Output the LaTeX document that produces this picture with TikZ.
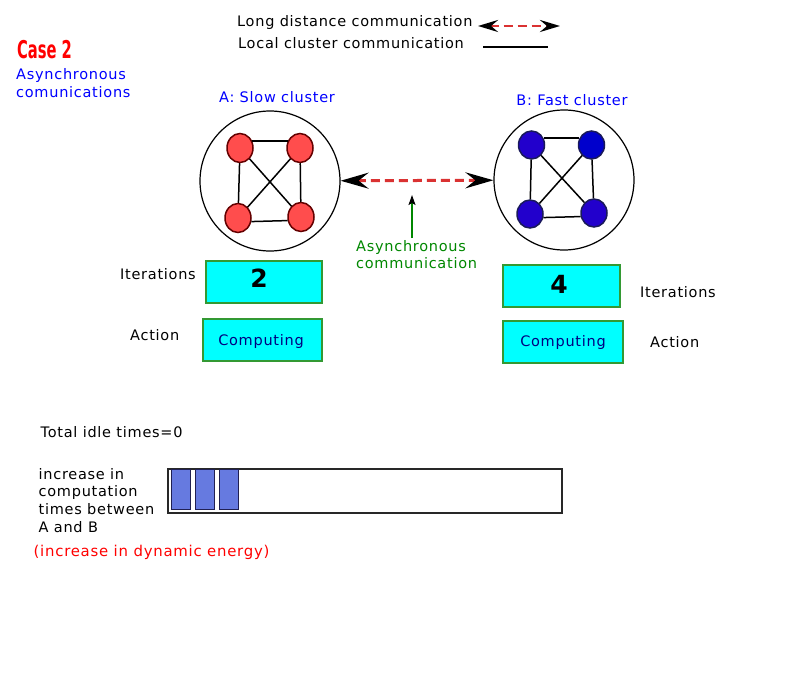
\documentclass[tikz,border=0pt]{standalone}
\usepackage{fontspec}
\setmainfont{DejaVu Sans}[LetterSpace=5]
\newfontfamily\boldcase{DejaVu Sans}[LetterSpace=0]
\usetikzlibrary{arrows.meta,shapes.geometric}
\definecolor{dashred}{RGB}{218,50,50}
\definecolor{rednode}{RGB}{255,77,77}
\definecolor{redborder}{RGB}{100,0,0}
\definecolor{bluenodeA}{RGB}{34,0,204}
\definecolor{bluenodeB}{RGB}{0,0,204}
\definecolor{blueborder}{RGB}{26,26,90}
\definecolor{boxgreen}{RGB}{51,153,51}
\definecolor{cyanfill}{RGB}{0,255,255}
\definecolor{txtgreen}{RGB}{0,135,0}
\definecolor{navy}{RGB}{0,0,128}
\definecolor{barblue}{RGB}{102,122,224}
\definecolor{barborder}{RGB}{40,40,40}
\begin{document}
\begin{tikzpicture}[x=1pt,y=-1pt,
  txt/.style={font=\fontsize{14.5}{17}\selectfont, inner sep=0pt, anchor=base west},
  ctxt/.style={txt, anchor=base},
  bigcircle/.style={circle, draw=black, line width=1.2pt, minimum size=140pt, inner sep=0pt},
  rnode/.style={ellipse, draw=redborder, fill=rednode, line width=1.5pt, minimum width=26pt, minimum height=29pt, inner sep=0pt},
  bnode/.style={ellipse, draw=blueborder, line width=1.5pt, minimum width=26pt, minimum height=28pt, inner sep=0pt},
  edge/.style={draw=black, line width=1.5pt},
  cyanbox/.style={rectangle, draw=boxgreen, fill=cyanfill, line width=2pt, minimum height=42pt, inner sep=0pt},
  longarrow/.style={draw=dashred, dash pattern=on 9pt off 5pt},
  idlebar/.style={rectangle, fill=barblue, draw=barborder!80!blue, line width=1pt, minimum width=19pt, minimum height=40pt, inner sep=0pt, anchor=north west},
  bignum/.style={font=\boldcase\bfseries\fontsize{25}{25}\selectfont, inner sep=0pt, anchor=base}
]
\useasboundingbox (0,0) rectangle (800,698);

% legend
\node[txt] (lg1) at (237,27) {Long distance communication};
\node[txt] (lg2) at (238,49) {Local cluster communication};
\coordinate (l1a) at (478,26);
\coordinate (l1b) at (560,26);
\draw[longarrow, line width=2.8pt, {Stealth[length=20pt,width=12pt,inset=7pt,color=black]}-{Stealth[length=20pt,width=12pt,inset=7pt,color=black]}] (l1a) -- (l1b);
\coordinate (l2a) at (483,47);
\coordinate (l2b) at (548,47);
\draw[black, line width=1.5pt] (l2a) -- (l2b);

% case title
\node[inner sep=0pt, anchor=base west, text=red] (case) at (17,59) {\scalebox{0.6}[1]{\boldcase\bfseries\fontsize{24.5}{25}\selectfont Case 2}};
\node[txt, text=blue] (as1) at (16,80) {Asynchronous};
\node[txt, text=blue] (as2) at (16,98) {comunications};

% cluster titles
\node[ctxt, text=blue] (tA) at (277,103) {A: Slow cluster};
\node[ctxt, text=blue] (tB) at (572,105.5) {B: Fast cluster};

% clusters
\node[bigcircle] (cA) at (270,181) {};
\node[bigcircle] (cB) at (564,180) {};

\node[rnode] (a1) at (240,148) {};
\node[rnode] (a2) at (300,148) {};
\node[rnode] (a3) at (238,218) {};
\node[rnode] (a4) at (301,217) {};
\path[edge] (a1.30) -- (a2.150);
\path[edge] (a1) -- (a3);
\path[edge] (a2) -- (a4);
\path[edge] (a3.-15) -- (a4.195);
\path[edge] (a1) -- (a4);
\path[edge] (a2) -- (a3);

\node[bnode, fill=bluenodeA] (b1) at (531.5,145) {};
\node[bnode, fill=bluenodeB] (b2) at (591.5,145) {};
\node[bnode, fill=bluenodeA] (b3) at (530,214) {};
\node[bnode, fill=bluenodeA] (b4) at (594,213) {};
\path[edge] (b1.30) -- (b2.150);
\path[edge] (b1) -- (b3);
\path[edge] (b2) -- (b4);
\path[edge] (b3.-15) -- (b4.195);
\path[edge] (b1) -- (b4);
\path[edge] (b2) -- (b3);

% long distance arrow
\draw[longarrow, line width=3pt, {Stealth[length=28pt,width=16pt,inset=10pt,color=black]}-{Stealth[length=28pt,width=16pt,inset=10pt,color=black]}] (cA) -- (cB);

% asynchronous communication pointer
\node[txt, text=txtgreen] (ac1) at (356,251.5) {Asynchronous};
\node[txt, text=txtgreen] (ac2) at (356,268) {communication};
\coordinate (g0) at (412,238);
\coordinate (gtip) at (412,195);
\draw[txtgreen, line width=1.5pt, -{Stealth[length=10pt,width=7pt,inset=2pt,color=black]}] (g0) -- (gtip);

% boxes A
\node[txt] (itlA) at (120,279) {Iterations};
\node[txt] (aclA) at (130,340.7) {Action};
\node[cyanbox, minimum width=116pt] (itA) at (264,282) {};
\node[bignum] (nA) at (259,287) {2};
\node[cyanbox, minimum width=119pt] (acA) at (262.5,340) {};
\node[ctxt, text=navy] (cpA) at (261,345.5) {Computing};

% boxes B
\node[cyanbox, minimum width=117pt] (itB) at (561.5,286) {};
\node[bignum] (nB) at (559,293) {4};
\node[cyanbox, minimum width=120pt] (acB) at (563,342) {};
\node[ctxt, text=navy] (cpB) at (563,346) {Computing};
\node[txt] (itlB) at (640,297) {Iterations};
\node[txt] (aclB) at (650,347) {Action};

% idle times
\node[txt] (idle) at (40.5,437.3) {Total idle times=0};
\node[txt] (inc1) at (38.5,479) {increase in};
\node[txt] (inc2) at (38.5,496.7) {computation};
\node[txt] (inc3) at (38.5,514.3) {times between};
\node[txt] (inc4) at (38.5,532) {A and B};
\node[txt, text=red, font=\fontsize{14.9}{17}\selectfont] (dyn) at (33.5,556.5) {(increase in dynamic energy)};

\node[rectangle, draw=barborder, fill=white, line width=1.5pt, minimum width=394pt, minimum height=44pt, inner sep=0pt, anchor=north west] (bar) at (167,468) {};
\node[idlebar] (i1) at (171,469) {};
\node[idlebar] (i2) at (195,469) {};
\node[idlebar] (i3) at (219,469) {};
\end{tikzpicture}
\end{document}
